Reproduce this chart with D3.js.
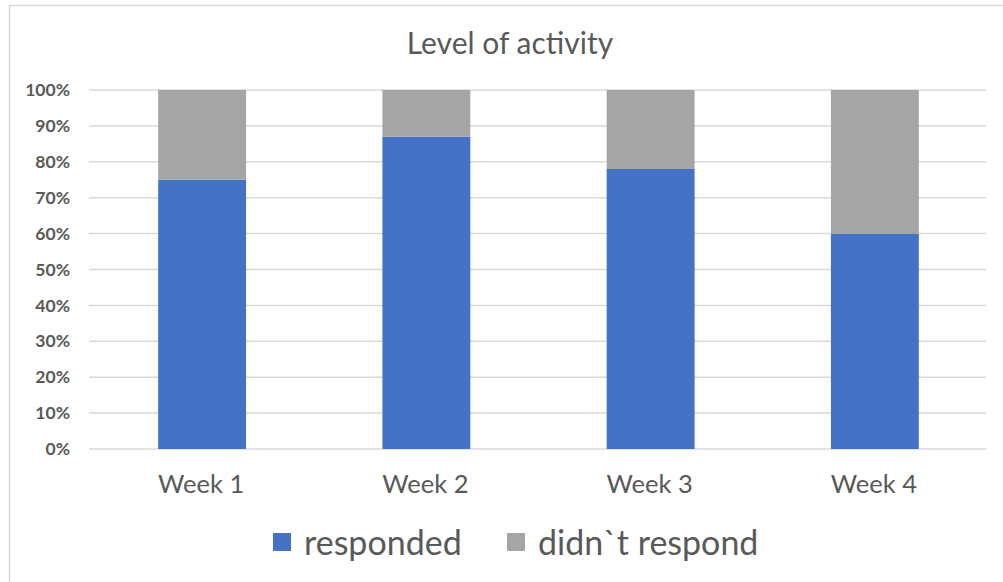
<!DOCTYPE html>
<html>
<head>
<meta charset="utf-8">
<script src="https://cdn.jsdelivr.net/npm/d3@7"></script>
<style>
  body { margin: 0; background: #fff; }
  text { font-family: Lato, "Open Sans", sans-serif; fill: #595959; }
</style>
</head>
<body>
<div id="chart"></div>
<script>
var weeks = ["Week 1", "Week 2", "Week 3", "Week 4"];
var responded = [75, 87, 78, 60];
var didntRespond = [25, 13, 22, 40];
var seriesNames = ["responded", "didn`t respond"];
var seriesColors = ["#4472C4", "#A5A5A5"];
var yTicks = [0, 10, 20, 30, 40, 50, 60, 70, 80, 90, 100];

var width = 1003, height = 582;
var margin = { top: 90, right: 17, bottom: 133, left: 89 };

var svg = d3.select("#chart").append("svg")
    .attr("width", width)
    .attr("height", height);

// outer chart frame
svg.append("rect")
    .attr("x", 9.5).attr("y", 5.5)
    .attr("width", 1010).attr("height", 600)
    .attr("fill", "none")
    .attr("stroke", "#D9D9D9")
    .attr("stroke-width", 1.5);

svg.append("text")
    .attr("x", 510).attr("y", 54)
    .attr("text-anchor", "middle")
    .attr("font-size", 30)
    .text("Level of activity");

var x = d3.scaleBand()
    .domain(weeks)
    .range([margin.left, width - margin.right])
    .paddingInner(0.608)
    .paddingOuter(0.304);

var y = d3.scaleLinear()
    .domain([0, 100])
    .range([height - margin.bottom, margin.top]);

// gridlines
svg.append("g")
    .selectAll("line")
    .data(yTicks)
    .enter().append("line")
    .attr("x1", margin.left)
    .attr("x2", width - margin.right)
    .attr("y1", function (d) { return y(d); })
    .attr("y2", function (d) { return y(d); })
    .attr("stroke", "#D9D9D9")
    .attr("stroke-width", 1.5);

// y axis labels
var yAxis = d3.axisLeft(y)
    .tickValues(yTicks)
    .tickSize(0)
    .tickPadding(19)
    .tickFormat(function (d) { return d + "%"; });

var gy = svg.append("g")
    .attr("transform", "translate(" + margin.left + ",0)")
    .call(yAxis);
gy.select(".domain").remove();
gy.selectAll("text")
    .attr("font-size", 17.5)
    .attr("font-weight", "bold")
    .style("font-family", "Lato, sans-serif")
    .attr("fill", "#595959");

// stacked bars
var rows = weeks.map(function (w, i) {
    return { week: w, responded: responded[i], didnt: didntRespond[i] };
});
var stack = d3.stack().keys(["responded", "didnt"]);
var layers = stack(rows);

svg.append("g")
    .selectAll("g")
    .data(layers)
    .enter().append("g")
    .attr("fill", function (d, i) { return seriesColors[i]; })
    .selectAll("rect")
    .data(function (d) { return d; })
    .enter().append("rect")
    .attr("x", function (d) { return x(d.data.week) + 1; })
    .attr("width", x.bandwidth())
    .attr("y", function (d) { return y(d[1]); })
    .attr("height", function (d) { return y(d[0]) - y(d[1]); });

// x axis labels
var xAxis = d3.axisBottom(x).tickSize(0).tickPadding(26);
var gx = svg.append("g")
    .attr("transform", "translate(0," + (height - margin.bottom) + ")")
    .call(xAxis);
gx.select(".domain").remove();
gx.selectAll("text")
    .attr("font-size", 25.5)
    .style("font-family", "Lato, sans-serif")
    .attr("fill", "#595959");

// legend
var legendX = [273, 507];
var legend = svg.append("g")
    .selectAll("g")
    .data(seriesNames)
    .enter().append("g")
    .attr("transform", function (d, i) { return "translate(" + legendX[i] + ",533)"; });

legend.append("rect")
    .attr("width", 18).attr("height", 18)
    .attr("fill", function (d, i) { return seriesColors[i]; });

legend.append("text")
    .attr("x", 31).attr("y", 22)
    .attr("font-size", 34)
    .text(function (d) { return d; });
</script>
</body>
</html>
